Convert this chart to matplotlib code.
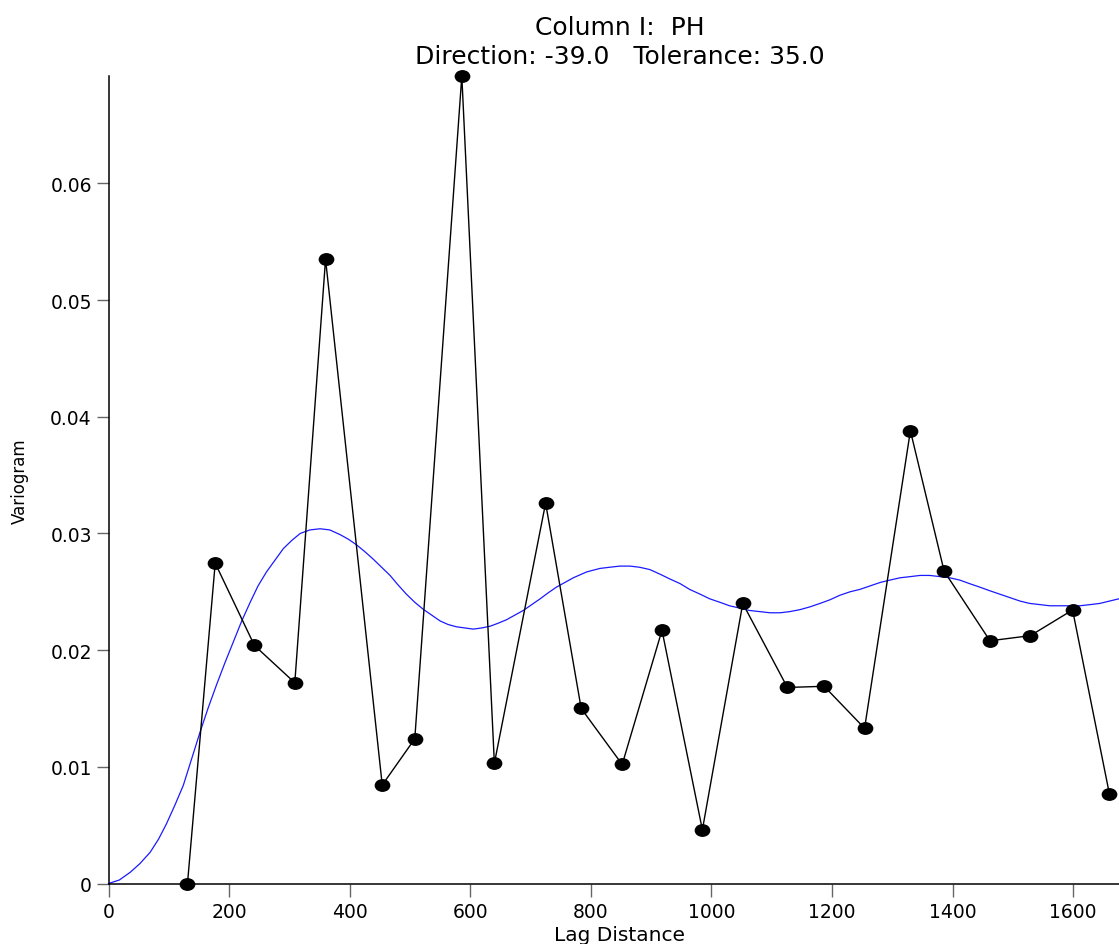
import matplotlib
matplotlib.use("Agg")
import matplotlib.pyplot as plt
from matplotlib.path import Path
from matplotlib.transforms import Affine2D
from matplotlib.ticker import FixedLocator, FuncFormatter

# Experimental variogram points
lag = [131, 177, 242, 309, 360, 454, 508, 586, 640, 725, 784, 852, 918, 985,
       1052, 1126, 1187, 1254, 1330, 1386, 1462, 1529, 1599, 1660]
gamma = [0.0, 0.02745, 0.0204, 0.0172, 0.0535, 0.00844, 0.0124, 0.0692,
         0.0103, 0.0326, 0.0150, 0.0102, 0.0217, 0.0046, 0.0240, 0.0168,
         0.0169, 0.0133, 0.0388, 0.02676, 0.0208, 0.02124, 0.02344, 0.0077]

# Model curve
model_lag = [0, 18, 36, 52, 69, 83, 96, 110, 124, 138, 152, 165, 179, 193, 207,
             221, 235, 248, 262, 276, 290, 304, 318, 334, 351, 367, 384, 398,
             412, 426, 439, 453, 467, 480, 494, 508, 522, 536, 550, 563, 577,
             591, 605, 619, 633, 646, 660, 674, 688, 702, 716, 729, 743, 757,
             771, 793, 815, 831, 848, 865, 881, 898, 915, 931, 948, 964, 981,
             997, 1014, 1030, 1047, 1063, 1080, 1097, 1114, 1130, 1147, 1163,
             1180, 1196, 1213, 1230, 1246, 1263, 1280, 1296, 1313, 1330, 1346,
             1362, 1379, 1395, 1412, 1428, 1445, 1461, 1478, 1495, 1512, 1528,
             1545, 1561, 1578, 1595, 1611, 1628, 1644, 1660, 1676]
model_gamma = [0.0, 0.0003, 0.00096, 0.0017, 0.00267, 0.0038, 0.0051, 0.0067,
               0.0084, 0.0107, 0.0130, 0.0150, 0.0170, 0.0189, 0.0207, 0.0225,
               0.0241, 0.0255, 0.0267, 0.0277, 0.0287, 0.0294, 0.0300, 0.0303,
               0.0304, 0.0303, 0.0299, 0.0295, 0.0290, 0.0284, 0.0278, 0.0271,
               0.0264, 0.0256, 0.0248, 0.0241, 0.0235, 0.0230, 0.0225, 0.0222,
               0.0220, 0.0219, 0.0218, 0.0219, 0.02205, 0.0223, 0.0226, 0.0230,
               0.0234, 0.0239, 0.0244, 0.0249, 0.0254, 0.0258, 0.0262, 0.0267,
               0.0270, 0.0271, 0.0272, 0.0272, 0.0271, 0.0269, 0.0265, 0.0261,
               0.0257, 0.0252, 0.0248, 0.0244, 0.0241, 0.0238, 0.0236, 0.0234,
               0.0233, 0.0232, 0.0232, 0.0233, 0.02347, 0.0237, 0.0240, 0.0243,
               0.0247, 0.0250, 0.0252, 0.0255, 0.0258, 0.0260, 0.0262, 0.0263,
               0.0264, 0.0264, 0.0263, 0.0262, 0.0260, 0.0257, 0.0254, 0.0251,
               0.0248, 0.0245, 0.0242, 0.0240, 0.0239, 0.0238, 0.0238, 0.0238,
               0.0238, 0.0239, 0.0240, 0.0242, 0.0244]

x_ticks = [0, 200, 400, 600, 800, 1000, 1200, 1400, 1600]
y_ticks = [0, 0.01, 0.02, 0.03, 0.04, 0.05, 0.06]

title1 = "Column I:  PH"
title2 = "Direction: -39.0   Tolerance: 35.0"
xlabel = "Lag Distance"
ylabel = "Variogram"

W, H = 1119, 945
fig = plt.figure(figsize=(W / 100, H / 100), dpi=100)
left, right, top, bottom = 108.5, 1119, 77, 884.5
ax = fig.add_axes([left / W, 1 - bottom / H, (right - left) / W, (bottom - top) / H])

ell = Path.unit_circle().transformed(Affine2D().scale(1, 0.8))

ax.plot(model_lag, model_gamma, color="#1a1aff", lw=0.9, zorder=2, clip_on=False)
ax.plot(lag, gamma, color="black", lw=1.0, marker=ell, markersize=10.3,
        markerfacecolor="black", markeredgecolor="black", zorder=3, clip_on=False)

ax.set_xlim(0, 1676)
ax.set_ylim(0, 0.0692)

for s in ["top", "right"]:
    ax.spines[s].set_visible(False)
for s in ["left", "bottom"]:
    ax.spines[s].set_linewidth(1.1)
    ax.spines[s].set_color("black")

ax.xaxis.set_major_locator(FixedLocator(x_ticks))
ax.yaxis.set_major_locator(FixedLocator(y_ticks))
ax.yaxis.set_major_formatter(FuncFormatter(lambda v, p: "0" if v == 0 else f"{v:.2f}"))
ax.tick_params(axis="both", direction="out", length=9, width=1.0, color="#666666",
               labelsize=13.5, labelcolor="black")
ax.tick_params(axis="y", pad=3)
ax.tick_params(axis="x", pad=4)

fig.text(620 / W, 1 - 35 / H, title1, ha="center", va="baseline", fontsize=18)
fig.text(620 / W, 1 - 64 / H, title2, ha="center", va="baseline", fontsize=18)
fig.text(620 / W, 1 - 941 / H, xlabel, ha="center", va="baseline", fontsize=14.5)
fig.text(20 / W, 1 - 481 / H, ylabel, ha="center", va="center", rotation=90, fontsize=12)

fig.savefig("out.png", dpi=100)
